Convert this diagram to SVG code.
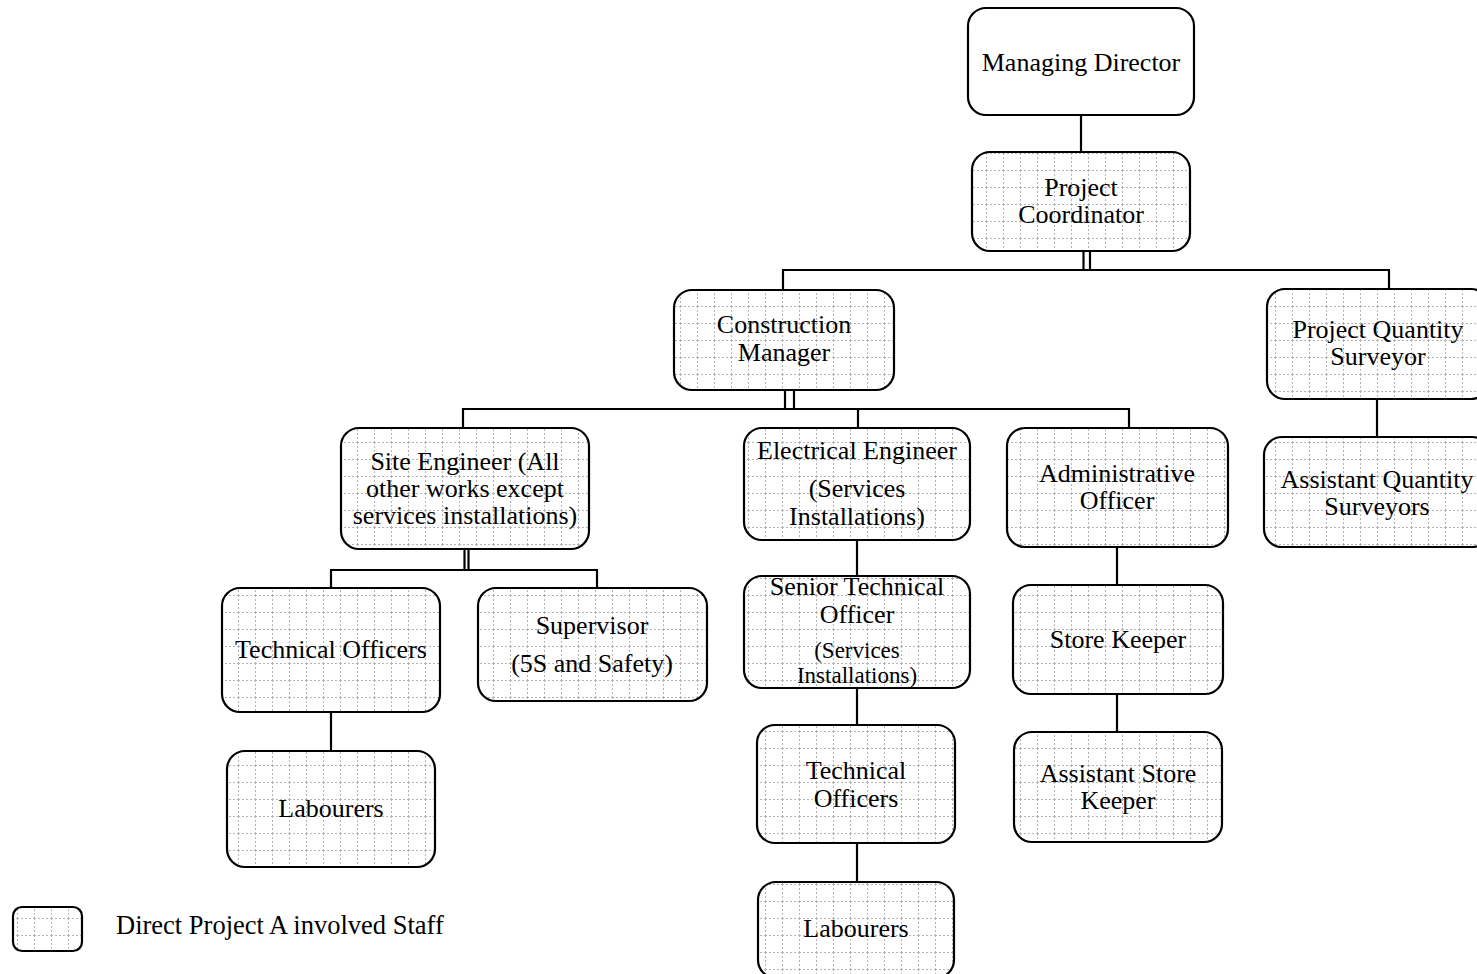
<svg xmlns="http://www.w3.org/2000/svg" width="1477" height="974" viewBox="0 0 1477 974">
  <defs>
    <!-- dotted grid fill used for project staff boxes -->
    <pattern id="grid" patternUnits="userSpaceOnUse" width="17" height="17">
      <rect width="17" height="17" fill="#fff"/>
      <line x1="0.5" y1="0" x2="0.5" y2="17" stroke="#b4b4b4" stroke-width="1" stroke-dasharray="2,2"/>
      <line x1="0" y1="0.5" x2="17" y2="0.5" stroke="#b4b4b4" stroke-width="1" stroke-dasharray="2,2"/>
    </pattern>
  </defs>
  <style>
    .box { fill: url(#grid); stroke: #000; stroke-width: 2.2; }
    .plain { fill: #fff; stroke: #000; stroke-width: 2.2; }
    text { font-family: "Liberation Serif", "Times New Roman", Times, serif; fill: #000; }
    .t { font-size: 26px; text-anchor: middle; }
    .s { font-size: 23px; }
    .leg { font-size: 26.5px; }
    .c { stroke: #000; stroke-width: 2.2; fill: none; }
  </style>
  <rect width="1477" height="974" fill="#fff"/>

  <g id="connectors">
    <line class="c" x1="1081" y1="115" x2="1081" y2="152"/>
    <line class="c" x1="1083.5" y1="251" x2="1083.5" y2="270"/>
    <line class="c" x1="1090" y1="251" x2="1090" y2="270"/>
    <line class="c" x1="782" y1="270" x2="1390" y2="270"/>
    <line class="c" x1="783" y1="270" x2="783" y2="290"/>
    <line class="c" x1="1389" y1="270" x2="1389" y2="290"/>
    <line class="c" x1="785" y1="390" x2="785" y2="409"/>
    <line class="c" x1="794" y1="390" x2="794" y2="409"/>
    <line class="c" x1="462" y1="409" x2="1130" y2="409"/>
    <line class="c" x1="463" y1="409" x2="463" y2="428"/>
    <line class="c" x1="858" y1="409" x2="858" y2="428"/>
    <line class="c" x1="1129" y1="409" x2="1129" y2="428"/>
    <line class="c" x1="464.5" y1="549" x2="464.5" y2="570"/>
    <line class="c" x1="468.5" y1="549" x2="468.5" y2="570"/>
    <line class="c" x1="330" y1="570" x2="598" y2="570"/>
    <line class="c" x1="331" y1="570" x2="331" y2="588"/>
    <line class="c" x1="597" y1="570" x2="597" y2="588"/>
    <line class="c" x1="331" y1="712" x2="331" y2="751"/>
    <line class="c" x1="857" y1="540" x2="857" y2="576"/>
    <line class="c" x1="857" y1="688" x2="857" y2="725"/>
    <line class="c" x1="857" y1="843" x2="857" y2="882"/>
    <line class="c" x1="1117" y1="547" x2="1117" y2="585"/>
    <line class="c" x1="1117" y1="694" x2="1117" y2="732"/>
    <line class="c" x1="1377" y1="399" x2="1377" y2="437"/>
  </g>

  <g id="managing-director">
    <rect class="plain" x="968" y="8" width="226" height="107" rx="18"/>
    <text class="t" x="1081" y="71">Managing Director</text>
  </g>

  <g id="project-coordinator">
    <rect class="box" x="972" y="152" width="218" height="99" rx="18"/>
    <text class="t" x="1081" y="196">Project</text>
    <text class="t" x="1081" y="223">Coordinator</text>
  </g>

  <g id="construction-manager">
    <rect class="box" x="674" y="290" width="220" height="100" rx="18"/>
    <text class="t" x="784" y="333">Construction</text>
    <text class="t" x="784" y="361">Manager</text>
  </g>

  <g id="project-quantity-surveyor">
    <rect class="box" x="1267" y="289" width="222" height="110" rx="18"/>
    <text class="t" x="1378" y="338">Project Quantity</text>
    <text class="t" x="1378" y="365">Surveyor</text>
  </g>

  <g id="assistant-quantity-surveyors">
    <rect class="box" x="1264" y="437" width="226" height="110" rx="18"/>
    <text class="t" x="1377" y="488">Assistant Quantity</text>
    <text class="t" x="1377" y="515">Surveyors</text>
  </g>

  <g id="site-engineer">
    <rect class="box" x="341" y="428" width="248" height="121" rx="18"/>
    <text class="t" x="465" y="470">Site Engineer (All</text>
    <text class="t" x="465" y="497">other works except</text>
    <text class="t" x="465" y="524">services installations)</text>
  </g>

  <g id="electrical-engineer">
    <rect class="box" x="744" y="428" width="226" height="112" rx="18"/>
    <text class="t" x="857" y="459">Electrical Engineer</text>
    <text class="t" x="857" y="497">(Services</text>
    <text class="t" x="857" y="525">Installations)</text>
  </g>

  <g id="administrative-officer">
    <rect class="box" x="1007" y="428" width="221" height="119" rx="18"/>
    <text class="t" x="1117" y="482">Administrative</text>
    <text class="t" x="1117" y="509">Officer</text>
  </g>

  <g id="technical-officers-site">
    <rect class="box" x="222" y="588" width="218" height="124" rx="18"/>
    <text class="t" x="331" y="658">Technical Officers</text>
  </g>

  <g id="supervisor">
    <rect class="box" x="478" y="588" width="229" height="113" rx="18"/>
    <text class="t" x="592" y="634">Supervisor</text>
    <text class="t" x="592" y="672">(5S and Safety)</text>
  </g>

  <g id="labourers-site">
    <rect class="box" x="227" y="751" width="208" height="116" rx="18"/>
    <text class="t" x="331" y="817">Labourers</text>
  </g>

  <g id="senior-technical-officer">
    <rect class="box" x="744" y="576" width="226" height="112" rx="18"/>
    <text class="t" x="857" y="595">Senior Technical</text>
    <text class="t" x="857" y="623">Officer</text>
    <text class="t s" x="857" y="658">(Services</text>
    <text class="t s" x="857" y="683">Installations)</text>
  </g>

  <g id="technical-officers-services">
    <rect class="box" x="757" y="725" width="198" height="118" rx="18"/>
    <text class="t" x="856" y="779">Technical</text>
    <text class="t" x="856" y="807">Officers</text>
  </g>

  <g id="labourers-services">
    <rect class="box" x="758" y="882" width="196" height="96" rx="18"/>
    <text class="t" x="856" y="937">Labourers</text>
  </g>

  <g id="store-keeper">
    <rect class="box" x="1013" y="585" width="210" height="109" rx="18"/>
    <text class="t" x="1118" y="648">Store Keeper</text>
  </g>

  <g id="assistant-store-keeper">
    <rect class="box" x="1014" y="732" width="208" height="110" rx="18"/>
    <text class="t" x="1118" y="782">Assistant Store</text>
    <text class="t" x="1118" y="809">Keeper</text>
  </g>

  <g id="legend">
    <rect class="box" x="13" y="907" width="69" height="44" rx="9"/>
    <text class="leg" x="116" y="934">Direct Project A involved Staff</text>
  </g>
</svg>
